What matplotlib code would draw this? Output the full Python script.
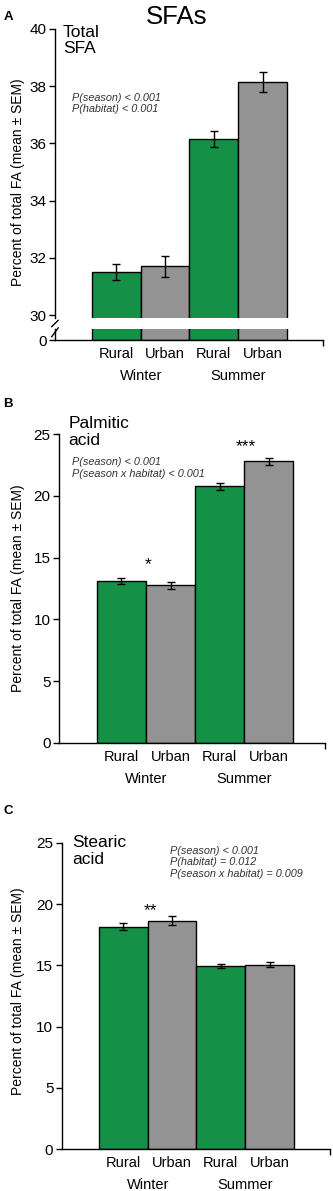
import matplotlib
matplotlib.use("Agg")
import matplotlib.pyplot as plt
import numpy as np

plt.rcParams['font.family'] = ['Liberation Sans', 'DejaVu Sans']

habitat = ['Rural', 'Urban', 'Rural', 'Urban']
season = ['Winter', 'Summer']
colors = ['#149146', '#939393', '#149146', '#939393']

total_sfa = [31.5, 31.7, 36.15, 38.15]
total_sfa_sem = [0.28, 0.38, 0.28, 0.35]
palmitic = [13.1, 12.75, 20.8, 22.8]
palmitic_sem = [0.25, 0.25, 0.28, 0.27]
stearic = [18.15, 18.65, 14.95, 15.05]
stearic_sem = [0.3, 0.4, 0.2, 0.2]

ylab = 'Percent of total FA (mean \u00b1 SEM)'
x = np.arange(4)

fig = plt.figure(figsize=(3.33, 11.91), dpi=100)


def draw_bars(ax, vals, sem):
    ax.bar(x, vals, width=1.0, color=colors, edgecolor='black', linewidth=1.0, zorder=2)
    ax.errorbar(x, vals, yerr=sem, fmt='none', ecolor='black', elinewidth=1.0,
                capsize=2.8, capthick=1.0, zorder=3)


def style_axis(ax, xlim):
    for s in ['top', 'right']:
        ax.spines[s].set_visible(False)
    ax.spines['left'].set_linewidth(1.0)
    ax.spines['bottom'].set_linewidth(1.0)
    ax.set_xlim(*xlim)
    ax.tick_params(axis='y', direction='out', length=4, width=1.0, labelsize=11, pad=2)


def xlabels(ax):
    ax.set_xticks(x)
    ax.set_xticklabels(habitat, fontsize=10.5)
    ax.tick_params(axis='x', length=0, pad=5)
    ax.set_xticks([ax.get_xlim()[1]], minor=True)
    ax.tick_params(axis='x', which='minor', length=4, width=1.0, direction='out')
    for i, s in enumerate(season):
        ax.annotate(s, xy=(2 * i + 0.5, 0), xycoords=ax.get_xaxis_transform(),
                    xytext=(0, -26), textcoords='offset points',
                    ha='center', va='center', fontsize=10.5)


ptext = dict(ha='left', va='top', fontsize=7.8, style='italic', color='#333333',
             linespacing=1.2)
name_text = dict(ha='left', va='top', fontsize=12.5, linespacing=1.15)

# ---- panel A, broken axis
xa = (-1.26, 4.24)
axA = fig.add_axes([0.165, 1 - 318 / 1191, 0.805, 289 / 1191])
axA0 = fig.add_axes([0.165, 1 - 340 / 1191, 0.805, 11 / 1191])
draw_bars(axA, total_sfa, total_sfa_sem)
draw_bars(axA0, total_sfa, total_sfa_sem)
style_axis(axA, xa)
style_axis(axA0, xa)
axA.set_ylim(29.9, 40)
axA.set_yticks(np.arange(30, 41, 2))
axA.spines['bottom'].set_visible(False)
axA.tick_params(axis='x', bottom=False, labelbottom=False)
axA0.set_ylim(0, 1)
axA0.set_yticks([0])
xlabels(axA0)
# break marks
d = dict(color='black', linewidth=1.0, clip_on=False)
axA.plot([-0.012, 0.012], [-0.030, -0.008], transform=axA.transAxes, **d)
axA0.plot([-0.012, 0.012], [0.30, 1.1], transform=axA0.transAxes, **d)
axA.text(0.03, 1.015, 'Total\nSFA', transform=axA.transAxes, **name_text)
axA.text(0.065, 0.78, 'P(season) < 0.001\nP(habitat) < 0.001', transform=axA.transAxes,
         **ptext)
axA.set_ylabel(ylab, fontsize=10)
axA.yaxis.set_label_coords(-0.112, 0.469)

# ---- panel B
axB = fig.add_axes([59 / 333, 1 - 742.7 / 1191, 266 / 333, 308.4 / 1191])
draw_bars(axB, palmitic, palmitic_sem)
style_axis(axB, (-1.27, 4.145))
axB.set_ylim(0, 25)
axB.set_yticks(np.arange(0, 26, 5))
xlabels(axB)
axB.text(0.54, 14.4, '*', ha='center', va='center', fontsize=12.5)
axB.text(2.53, 24.0, '***', ha='center', va='center', fontsize=12.5)
axB.text(0.035, 1.06, 'Palmitic\nacid', transform=axB.transAxes, **name_text)
axB.text(0.05, 0.925, 'P(season) < 0.001\nP(season x habitat) < 0.001', transform=axB.transAxes,
         **ptext)
axB.set_ylabel(ylab, fontsize=10)
axB.yaxis.set_label_coords(-0.128, 0.5)

# ---- panel C
axC = fig.add_axes([61.7 / 333, 1 - 1149.3 / 1191, 268.3 / 333, 306.6 / 1191])
draw_bars(axC, stearic, stearic_sem)
style_axis(axC, (-1.265, 4.24))
axC.set_ylim(0, 25)
axC.set_yticks(np.arange(0, 26, 5))
xlabels(axC)
axC.text(0.55, 19.5, '**', ha='center', va='center', fontsize=12.5)
axC.text(0.04, 1.025, 'Stearic\nacid', transform=axC.transAxes, **name_text)
axC.text(0.405, 0.99, 'P(season) < 0.001\nP(habitat) = 0.012\nP(season x habitat) = 0.009',
         transform=axC.transAxes, **ptext)
axC.set_ylabel(ylab, fontsize=10)
axC.yaxis.set_label_coords(-0.137, 0.517)

fig.text(0.53, 0.996, 'SFAs', ha='center', va='top', fontsize=18.5)
fig.text(0.01, 0.991, 'A', ha='left', va='top', fontsize=9.5, weight='bold')
fig.text(0.01, 1 - 398 / 1191, 'B', ha='left', va='top', fontsize=9.5, weight='bold')
fig.text(0.01, 1 - 805 / 1191, 'C', ha='left', va='top', fontsize=9.5, weight='bold')

fig.savefig('out.png', dpi=100)
